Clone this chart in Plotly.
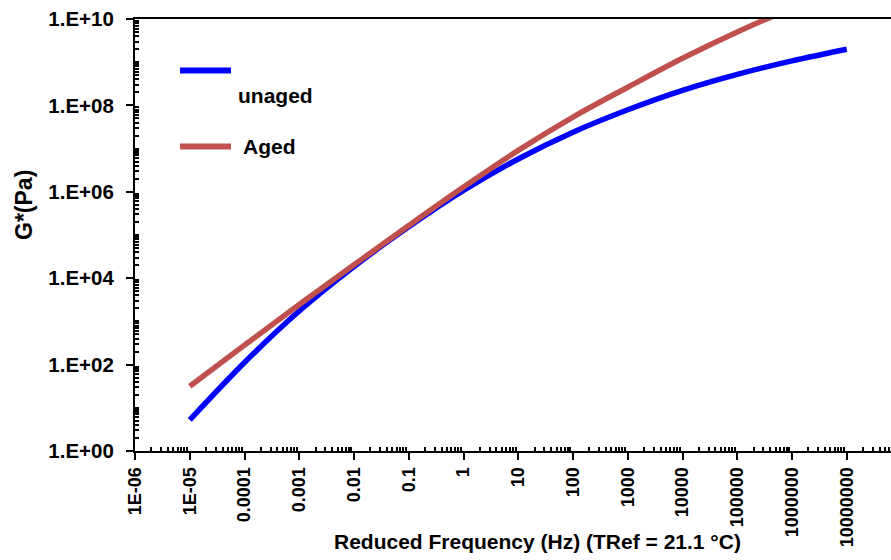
import plotly.graph_objects as go

# ---- data ----
freq = [1e-5, 1e-4, 1e-3, 1e-2, 1e-1, 1, 10, 100, 1e3, 1e4, 1e5, 1e6, 1e7]
unaged_log = [0.72, 2.05, 3.24, 4.27, 5.19, 6.03, 6.76, 7.38, 7.90, 8.35, 8.72, 9.03, 9.30]
aged_log = [1.50, 2.45, 3.39, 4.31, 5.22, 6.11, 6.96, 7.73, 8.42, 9.09, 9.70, 10.25, 10.75]
unaged = [10 ** v for v in unaged_log]
aged = [10 ** v for v in aged_log]

x_tick_vals = [1e-6, 1e-5, 1e-4, 1e-3, 1e-2, 1e-1, 1, 10, 100, 1e3, 1e4, 1e5, 1e6, 1e7, 1e8]
x_tick_text = ["1E-06", "1E-05", "0.0001", "0.001", "0.01", "0.1", "1", "10", "100",
               "1000", "10000", "100000", "1000000", "10000000", "1E+08"]
y_tick_vals = [1, 1e2, 1e4, 1e6, 1e8, 1e10]
y_tick_text = ["1.E+00", "1.E+02", "1.E+04", "1.E+06", "1.E+08", "1.E+10"]

BLUE = "#0000FF"
RED = "#C0504D"
W, H = 891, 560
L, R, T, B = 135, 0, 19, 109
FONT = "Liberation Sans, Arial, sans-serif"


def px_x(px):
    return (px - L) / (W - L - R)


def px_y(py):
    return (H - B - py) / (H - T - B)


# minor ticks
x_minor = [m * 10.0 ** k for k in range(-6, 8) for m in range(2, 10)]
y_minor = []
for k in range(0, 10):
    for m in range(1, 10):
        if m == 1 and k % 2 == 0:
            continue
        y_minor.append(m * 10.0 ** k)

fig = go.Figure()
fig.add_trace(go.Scatter(x=freq, y=unaged, mode="lines", name="unaged",
                         line=dict(color=BLUE, width=5.5, shape="spline", smoothing=1)))
fig.add_trace(go.Scatter(x=freq, y=aged, mode="lines", name="Aged",
                         line=dict(color=RED, width=5.5, shape="spline", smoothing=1)))

fig.update_layout(
    width=W, height=H,
    margin=dict(l=L, r=R, t=T, b=B, pad=0),
    paper_bgcolor="white", plot_bgcolor="white",
    showlegend=False,
    font=dict(family=FONT, size=20, color="black", weight="bold"),
)

fig.update_xaxes(
    type="log", range=[-6, -6 + (W - L - R) / 54.75],
    tickmode="array", tickvals=x_tick_vals, ticktext=x_tick_text,
    tickangle=-90, tickfont=dict(family=FONT, size=18, color="black", weight="bold"),
    ticks="outside", ticklen=7, tickwidth=2, tickcolor="black",
    showline=True, linecolor="black", linewidth=2, mirror=True,
    showgrid=False, zeroline=False,
    minor=dict(tickvals=x_minor, ticks="inside", ticklen=4, tickwidth=1.5,
               tickcolor="black", showgrid=False),
)
fig.update_yaxes(
    type="log", range=[0, 10],
    tickmode="array", tickvals=y_tick_vals, ticktext=y_tick_text,
    tickfont=dict(family=FONT, size=20.5, color="black", weight="bold"),
    ticks="outside", ticklen=7, tickwidth=2, tickcolor="black",
    ticklabelstandoff=8,
    showline=True, linecolor="black", linewidth=2, mirror=False,
    showgrid=False, zeroline=False,
    minor=dict(tickvals=y_minor, ticks="inside", ticklen=4, tickwidth=1.5,
               tickcolor="black", showgrid=False),
)

# axis titles
fig.add_annotation(text="Reduced Frequency (Hz) (TRef = 21.1 °C)",
                   xref="paper", yref="paper", x=px_x(537), y=px_y(541),
                   showarrow=False, xanchor="center", yanchor="middle",
                   font=dict(family=FONT, size=21, color="black", weight="bold"))
fig.add_annotation(text="G*(Pa)", textangle=-90,
                   xref="paper", yref="paper", x=px_x(24), y=px_y(205),
                   showarrow=False, xanchor="center", yanchor="middle",
                   font=dict(family=FONT, size=23, color="black", weight="bold"))

# legend (drawn manually to match the reference layout)
fig.add_shape(type="line", xref="paper", yref="paper",
              x0=px_x(180), x1=px_x(231), y0=px_y(70.5), y1=px_y(70.5),
              line=dict(color=BLUE, width=6))
fig.add_shape(type="line", xref="paper", yref="paper",
              x0=px_x(180), x1=px_x(231), y0=px_y(146.5), y1=px_y(146.5),
              line=dict(color=RED, width=6))
fig.add_annotation(text="unaged", xref="paper", yref="paper",
                   x=px_x(236), y=px_y(96), showarrow=False,
                   xanchor="left", yanchor="middle",
                   font=dict(family=FONT, size=21, color="black", weight="bold"))
fig.add_annotation(text="Aged", xref="paper", yref="paper",
                   x=px_x(241), y=px_y(146), showarrow=False,
                   xanchor="left", yanchor="middle",
                   font=dict(family=FONT, size=21, color="black", weight="bold"))

fig.write_html("out.html")
